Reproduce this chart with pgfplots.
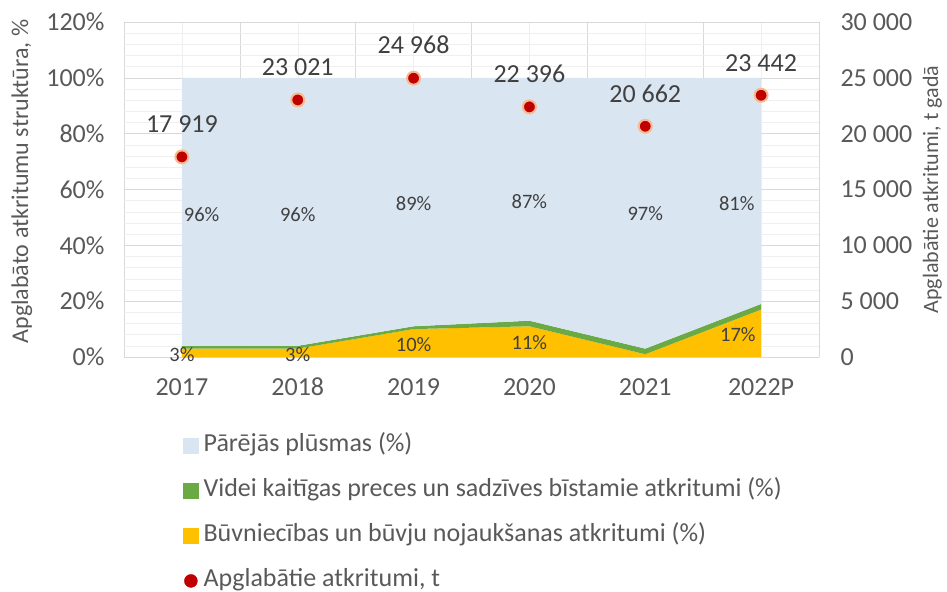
\documentclass[border=0pt]{standalone}
\usepackage{pgfplots}
\pgfplotsset{compat=1.18}
\usepackage{fontspec}
\setmainfont{Carlito}
\definecolor{cblue}{HTML}{DAE5F2}
\definecolor{cgreen}{HTML}{6AAA45}
\definecolor{cyellow}{HTML}{FFC000}
\definecolor{cred}{HTML}{C00000}
\definecolor{cglow}{HTML}{F7B98F}
\definecolor{ctext}{HTML}{595959}
\definecolor{clab}{HTML}{404040}
\definecolor{cgridmaj}{HTML}{D9D9D9}
\definecolor{cgridmin}{HTML}{EFEFEF}
\newcommand{\tfont}{\fontsize{26bp}{30bp}\selectfont}
\newcommand{\lfont}{\fontsize{20.5bp}{24bp}\selectfont}
\newcommand{\afont}{\fontsize{24bp}{28bp}\selectfont}
\newcommand{\rfont}{\fontsize{22bp}{26bp}\selectfont}
\begin{document}
\begin{tikzpicture}
\path[use as bounding box] (-124bp,-235bp) rectangle (823bp,357bp);
% ---------- left axis: stacked areas ----------
\begin{axis}[
  at={(0,0)}, anchor=south west,
  scale only axis, width=695bp, height=335bp,
  xmin=-0.5, xmax=5.5, ymin=0, ymax=120,
  xtick={0,1,2,3,4,5},
  xticklabels={2017,2018,2019,2020,2021,2022P},
  minor xtick={-0.5,0.5,1.5,2.5,3.5,4.5,5.5},
  ytick={0,20,40,60,80,100,120},
  yticklabels={0\%,20\%,40\%,60\%,80\%,100\%,120\%},
  minor ytick={0,4,...,120},
  grid=both,
  major x grid style={draw=cgridmin},
  minor x grid style={draw=cgridmaj},
  major y grid style={draw=cgridmaj},
  minor y grid style={draw=cgridmin},
  axis line style={draw=none}, tick style={draw=none},
  ticklabel style={font=\tfont, text=ctext},
  yticklabel style={xshift=-16bp},
  xticklabel style={anchor=north, yshift=-18bp, text height=17bp, text depth=0bp},
  ylabel={Apglabāto atkritumu struktūra, \%},
  ylabel style={font=\afont, text=ctext, at={(axis description cs:-0.147,0.524)}, anchor=center},
]
\addplot[stack plots=y, fill=cyellow, draw=none] coordinates {(0,3) (1,3) (2,10) (3,11) (4,1) (5,17)} \closedcycle;
\addplot[stack plots=y, fill=cgreen, draw=none] coordinates {(0,1) (1,1) (2,1) (3,2) (4,2) (5,2)} \closedcycle;
\addplot[stack plots=y, fill=cblue, draw=none] coordinates {(0,96) (1,96) (2,89) (3,87) (4,97) (5,81)} \closedcycle;
\end{axis}
% ---------- label axis (percent labels) + legend ----------
\begin{axis}[
  at={(0,0)}, anchor=south west,
  scale only axis, width=695bp, height=335bp,
  xmin=-0.5, xmax=5.5, ymin=0, ymax=120,
  hide axis, clip=false,
  legend style={at={(axis description cs:0.0849,-0.232)}, anchor=north west,
    draw=none, fill=none, inner sep=0pt, font=\tfont, text=ctext,
    row sep=23bp, nodes={text height=17bp, text depth=5bp, inner sep=0pt},
    /tikz/every odd column/.append style={column sep=5bp}},
  legend cell align=left,
]
\addplot[only marks, mark=none, nodes near coords, point meta=explicit symbolic,
  nodes near coords style={font=\lfont, text=clab, anchor=center, inner sep=0pt}, forget plot]
  table[meta=lab] {
x y lab
0.17 51 96\%
1 51 96\%
2 55 89\%
3 55.5 87\%
4 51.5 97\%
4.79 55 81\%
0 0.8 3\%
1 0.8 3\%
2 4.3 10\%
3 5 11\%
4.8 7.9 17\%
};
\addlegendimage{legend image code/.code={\fill[cblue] (0bp,-7.5bp) rectangle (15bp,7.5bp);}}
\addlegendentry{Pārējās plūsmas (\%)}
\addlegendimage{legend image code/.code={\fill[cgreen] (0bp,-7.5bp) rectangle (15bp,7.5bp);}}
\addlegendentry{Videi kaitīgas preces un sadzīves bīstamie atkritumi (\%)}
\addlegendimage{legend image code/.code={\fill[cyellow] (0bp,-7.5bp) rectangle (15bp,7.5bp);}}
\addlegendentry{Būvniecības un būvju nojaukšanas atkritumi (\%)}
\addlegendimage{legend image code/.code={\fill[cred] (7.5bp,0bp) circle (6.5bp);}}
\addlegendentry{Apglabātie atkritumi, t}
\end{axis}
% ---------- right axis: disposed waste ----------
\begin{axis}[
  at={(0,0)}, anchor=south west,
  scale only axis, width=695bp, height=335bp,
  xmin=-0.5, xmax=5.5, ymin=0, ymax=30000,
  axis x line=none, axis y line*=right,
  axis line style={draw=none}, tick style={draw=none},
  scaled y ticks=false,
  ytick={0,5000,10000,15000,20000,25000,30000},
  yticklabels={0,5 000,10 000,15 000,20 000,25 000,30 000},
  ticklabel style={font=\tfont, text=ctext},
  yticklabel style={xshift=18bp},
  ylabel={Apglabātie atkritumi, t gadā},
  ylabel style={font=\rfont, text=ctext, at={(axis description cs:1.163,0.5)}, anchor=center, rotate=0},
  clip=false,
]
\addplot[only marks, mark=*, mark size=6.5bp,
  mark options={fill=cred, draw=cglow, line width=2bp},
  nodes near coords, point meta=explicit symbolic,
  nodes near coords style={font=\tfont, text=clab, anchor=south, inner sep=0pt, yshift=23bp}]
  table[meta=lab] {
x y lab
0 17919 {17 919}
1 23021 {23 021}
2 24968 {24 968}
3 22396 {22 396}
4 20662 {20 662}
5 23442 {23 442}
};
\end{axis}
\end{tikzpicture}
\end{document}
